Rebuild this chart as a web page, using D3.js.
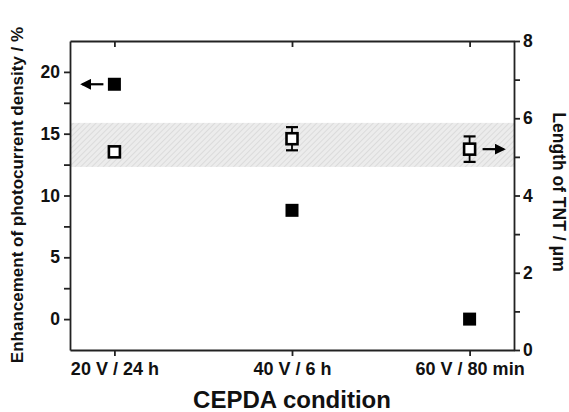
<!DOCTYPE html>
<html>
<head>
<meta charset="utf-8">
<script src="https://cdn.jsdelivr.net/npm/d3@7"></script>
<style>
  body { margin: 0; background: #fff; }
  text { font-family: Arial, "Liberation Sans", sans-serif; font-weight: bold; fill: #111; }
  .axis path, .axis line { stroke: #222; stroke-width: 1.8; }
</style>
</head>
<body>
<div id="chart"></div>
<script>
// data
var conditions = ["20 V / 24 h", "40 V / 6 h", "60 V / 80 min"];
var enhancement = [19, 8.8, 0];          // left axis, %
var tntLength = [5.13, 5.47, 5.2];       // right axis, um
var tntError = [0.12, 0.3, 0.33];
var bandRange = [4.74, 5.88];            // shaded band on right axis
var leftTicks = [0, 5, 10, 15, 20];
var leftMinor = [2.5, 7.5, 12.5, 17.5];
var rightTicks = [0, 2, 4, 6, 8];
var rightMinor = [1, 3, 5, 7];

var width = 569, height = 412;
var margin = {top: 41, right: 55, bottom: 62, left: 70};
var w = width - margin.left - margin.right,
    h = height - margin.top - margin.bottom;

var svg = d3.select("#chart").append("svg")
    .attr("width", width)
    .attr("height", height);

var defs = svg.append("defs");
var pat = defs.append("pattern")
    .attr("id", "hatch")
    .attr("patternUnits", "userSpaceOnUse")
    .attr("width", 4).attr("height", 4)
    .attr("patternTransform", "rotate(45)");
pat.append("rect").attr("width", 4).attr("height", 4).attr("fill", "#ececec");
pat.append("line").attr("x1", 0).attr("y1", 0).attr("x2", 0).attr("y2", 4)
    .attr("stroke", "#d0d0d0").attr("stroke-width", 1.2);

var g = svg.append("g").attr("transform", "translate(" + margin.left + "," + margin.top + ")");

// scales
var x = d3.scaleLinear().domain([-0.25, 2.25]).range([0, w]);
var yL = d3.scaleLinear().domain([-2.5, 22.5]).range([h, 0]);
var yR = d3.scaleLinear().domain([0, 8]).range([h, 0]);

// shaded band
g.append("rect")
    .attr("x", 0)
    .attr("width", w)
    .attr("y", yR(bandRange[1]))
    .attr("height", yR(bandRange[0]) - yR(bandRange[1]))
    .attr("fill", "url(#hatch)");

// ---- AXES ---- //
var idx = conditions.map(function(d, i) { return i; });

var xAxis = d3.axisBottom(x).tickValues(idx)
    .tickFormat(function(i) { return conditions[i]; })
    .tickSize(6).tickSizeOuter(0).tickPadding(6);
var xg = g.append("g").attr("class", "axis")
    .attr("transform", "translate(0," + h + ")")
    .call(xAxis);
xg.selectAll("text").style("font-size", "18px");

var topAxis = d3.axisTop(x).tickValues(idx).tickFormat("")
    .tickSize(-6).tickSizeOuter(0);
g.append("g").attr("class", "axis").call(topAxis);

var leftAxis = d3.axisLeft(yL).tickValues(leftTicks.concat(leftMinor))
    .tickFormat(function(d) { return leftTicks.indexOf(d) >= 0 ? d : ""; })
    .tickSize(6).tickSizeOuter(0).tickPadding(4);
var lg = g.append("g").attr("class", "axis").call(leftAxis);
lg.selectAll("text").style("font-size", "17.5px");

var rightAxis = d3.axisRight(yR).tickValues(rightTicks.concat(rightMinor))
    .tickFormat(function(d) { return rightTicks.indexOf(d) >= 0 ? d : ""; })
    .tickSize(6).tickSizeOuter(0).tickPadding(3);
var rg = g.append("g").attr("class", "axis")
    .attr("transform", "translate(" + w + ",0)")
    .call(rightAxis);
rg.selectAll("text").style("font-size", "17.5px");

// ---- FILLED SQUARES (left) ---- //
g.selectAll(".filled")
    .data(enhancement)
  .enter().append("rect")
    .attr("class", "filled")
    .attr("x", function(d, i) { return x(i) - 6.5; })
    .attr("y", function(d) { return yL(d) - 6.5; })
    .attr("width", 13).attr("height", 13)
    .attr("fill", "#000");

// ---- ERROR BARS + OPEN SQUARES (right) ---- //
var eb = g.selectAll(".err")
    .data(tntLength)
  .enter().append("g").attr("class", "err");

eb.append("line")
    .attr("x1", function(d, i) { return x(i); })
    .attr("x2", function(d, i) { return x(i); })
    .attr("y1", function(d, i) { return yR(d + tntError[i]); })
    .attr("y2", function(d, i) { return yR(d - tntError[i]); })
    .attr("stroke", "#000").attr("stroke-width", 1.8);
[1, -1].forEach(function(s) {
  eb.append("line")
      .attr("x1", function(d, i) { return x(i) - 6; })
      .attr("x2", function(d, i) { return x(i) + 6; })
      .attr("y1", function(d, i) { return yR(d + s * tntError[i]); })
      .attr("y2", function(d, i) { return yR(d + s * tntError[i]); })
      .attr("stroke", "#000").attr("stroke-width", 2.2);
});
eb.append("rect")
    .attr("x", function(d, i) { return x(i) - 5.5; })
    .attr("y", function(d) { return yR(d) - 5.5; })
    .attr("width", 11).attr("height", 11)
    .attr("fill", "#fff").attr("stroke", "#000").attr("stroke-width", 2.6);

// ---- ARROWS ---- //
defs.append("marker")
    .attr("id", "head")
    .attr("viewBox", "0 0 10 10")
    .attr("refX", 8).attr("refY", 5)
    .attr("markerWidth", 5).attr("markerHeight", 5)
    .attr("orient", "auto")
  .append("path").attr("d", "M0,0L10,5L0,10z").attr("fill", "#000");

g.append("line")
    .attr("x1", x(0) - 11).attr("x2", x(0) - 32)
    .attr("y1", yL(enhancement[0])).attr("y2", yL(enhancement[0]))
    .attr("stroke", "#000").attr("stroke-width", 2.2)
    .attr("marker-end", "url(#head)");

g.append("line")
    .attr("x1", x(2) + 13).attr("x2", x(2) + 34)
    .attr("y1", yR(tntLength[2])).attr("y2", yR(tntLength[2]))
    .attr("stroke", "#000").attr("stroke-width", 2.2)
    .attr("marker-end", "url(#head)");

// ---- TITLES ---- //
svg.append("text")
    .attr("transform", "translate(23,195) rotate(-90)")
    .attr("text-anchor", "middle")
    .style("font-size", "17px")
    .text("Enhancement of photocurrent density / %");

svg.append("text")
    .attr("transform", "translate(553,192) rotate(90)")
    .attr("text-anchor", "middle")
    .style("font-size", "17.5px")
    .text("Length of TNT / \u03bcm");

svg.append("text")
    .attr("x", margin.left + w / 2)
    .attr("y", 408)
    .attr("text-anchor", "middle")
    .style("font-size", "24px")
    .text("CEPDA condition");
</script>
</body>
</html>
